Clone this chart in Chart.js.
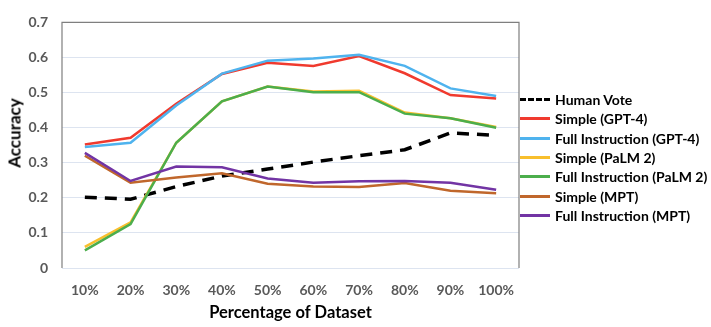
<!DOCTYPE html>
<html>
<head>
<meta charset="utf-8">
<script src="https://cdn.jsdelivr.net/npm/chart.js@4.4.1/dist/chart.umd.min.js"></script>
<style>
  html, body { margin: 0; padding: 0; background: #fff; }
  #wrap { position: relative; width: 711px; height: 327px; }
  #legend { position: absolute; left: 520px; top: 90px; font-family: Lato, "Open Sans", sans-serif; font-weight: bold; font-size: 14px; color: #000; }
  .row { height: 19.3px; display: flex; align-items: center; white-space: nowrap; }
  .swatch { width: 30px; height: 0; margin-right: 5px; }
  #ytitle { position: absolute; left: 13.5px; top: 132.5px; transform: translate(-50%, -50%) rotate(-90deg);
            font-family: Lato, "Open Sans", sans-serif; font-weight: bold; font-size: 17px; color: #000; white-space: nowrap; }
</style>
</head>
<body>
<div id="wrap">
  <canvas id="chart" width="711" height="327"></canvas>
  <div id="legend"></div>
  <div id="ytitle">Accuracy</div>
</div>
<script>
const categories = ['10%', '20%', '30%', '40%', '50%', '60%', '70%', '80%', '90%', '100%'];
const yTicks = [0, 0.1, 0.2, 0.3, 0.4, 0.5, 0.6, 0.7];

const humanVote = [0.202, 0.196, 0.232, 0.262, 0.282, 0.302, 0.320, 0.337, 0.385, 0.378];
const simpleGpt4 = [0.352, 0.371, 0.468, 0.553, 0.585, 0.576, 0.604, 0.555, 0.493, 0.483];
const fullGpt4 = [0.345, 0.357, 0.463, 0.554, 0.591, 0.597, 0.608, 0.576, 0.512, 0.490];
const simplePalm = [0.060, 0.130, 0.357, 0.475, 0.517, 0.503, 0.505, 0.443, 0.427, 0.402];
const fullPalm = [0.050, 0.125, 0.357, 0.475, 0.517, 0.501, 0.501, 0.440, 0.427, 0.400];
const simpleMpt = [0.320, 0.243, 0.258, 0.270, 0.240, 0.232, 0.231, 0.242, 0.220, 0.213];
const fullMpt = [0.328, 0.248, 0.289, 0.287, 0.255, 0.243, 0.247, 0.248, 0.243, 0.223];

const series = [
  { label: 'Human Vote', data: humanVote, color: '#000000', dash: [12, 8], width: 3.5 },
  { label: 'Simple (GPT-4)', data: simpleGpt4, color: '#f03a2e', width: 2.5 },
  { label: 'Full Instruction (GPT-4)', data: fullGpt4, color: '#4fb3ee', width: 2.5 },
  { label: 'Simple (PaLM 2)', data: simplePalm, color: '#f8bf2d', width: 2.5 },
  { label: 'Full Instruction (PaLM 2)', data: fullPalm, color: '#4cae4c', width: 2.5 },
  { label: 'Simple (MPT)', data: simpleMpt, color: '#c0672c', width: 2.5 },
  { label: 'Full Instruction (MPT)', data: fullMpt, color: '#7234a4', width: 2.5 }
];

const tickFont = { family: 'Lato, "Open Sans", sans-serif', size: 14, weight: 'bold' };
const titleFont = { family: 'Lato, "Open Sans", sans-serif', size: 16.5, weight: 'bold' };

// plot frame: left, top and right edges in dark gray
const framePlugin = {
  id: 'frame',
  afterDatasetsDraw(chart) {
    const a = chart.chartArea;
    const ctx = chart.ctx;
    ctx.save();
    ctx.strokeStyle = '#7f7f7f';
    ctx.lineWidth = 1.2;
    ctx.beginPath();
    ctx.moveTo(a.left, a.bottom);
    ctx.lineTo(a.left, a.top);
    ctx.lineTo(a.right, a.top);
    ctx.lineTo(a.right, a.bottom);
    ctx.stroke();
    ctx.restore();
  }
};

const chart = new Chart(document.getElementById('chart'), {
  type: 'line',
  data: {
    labels: categories,
    datasets: series.map((s, i) => ({
      label: s.label,
      data: s.data,
      borderColor: s.color,
      backgroundColor: s.color,
      borderWidth: s.width,
      borderDash: s.dash || [],
      pointRadius: 0,
      tension: 0,
      order: series.length - i
    }))
  },
  options: {
    responsive: false,
    animation: false,
    layout: { padding: { top: 13, right: 192, left: 0, bottom: 0 } },
    plugins: { legend: { display: false }, tooltip: { enabled: false } },
    scales: {
      x: {
        offset: true,
        grid: { display: false, drawTicks: false },
        border: { display: false },
        ticks: { color: '#595959', font: tickFont, padding: 14 },
        title: { display: true, text: 'Percentage of Dataset', color: '#000', font: titleFont, padding: { top: 8 } },
        afterFit: s => { s.height = 59; }
      },
      y: {
        min: 0,
        max: 0.7,
        afterBuildTicks: s => { s.ticks = yTicks.map(v => ({ value: v })); },
        grid: { color: '#dde4f0', lineWidth: 1, drawTicks: false },
        border: { display: false },
        ticks: { color: '#595959', font: tickFont, padding: 14 },
        afterFit: s => { s.width = 62; }
      }
    }
  },
  plugins: [framePlugin]
});

// legend as real text, built from the datasets
const legend = document.getElementById('legend');
series.forEach(s => {
  const row = document.createElement('div');
  row.className = 'row';
  const sw = document.createElement('span');
  sw.className = 'swatch';
  sw.style.borderTop = s.dash ? `3.5px dashed ${s.color}` : `3px solid ${s.color}`;
  const txt = document.createElement('span');
  txt.textContent = s.label;
  row.appendChild(sw);
  row.appendChild(txt);
  legend.appendChild(row);
});
</script>
</body>
</html>
